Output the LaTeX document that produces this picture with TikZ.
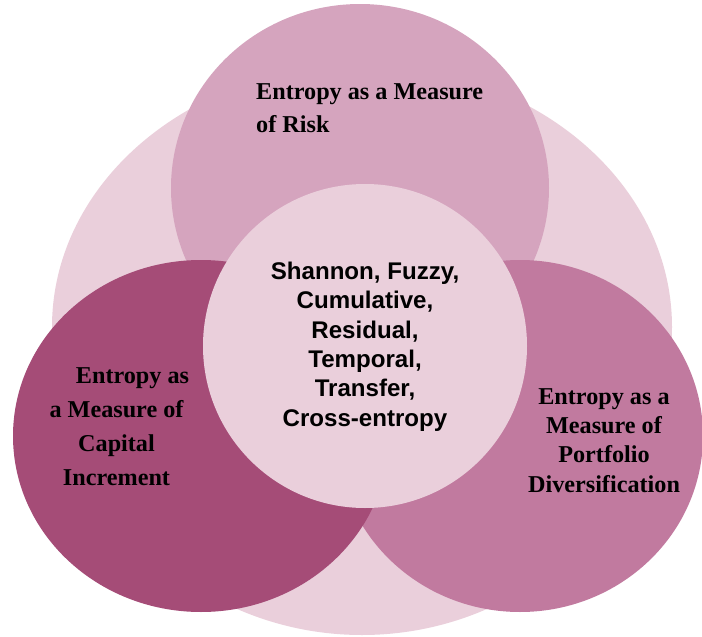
\documentclass[tikz,border=0pt]{standalone}
\usepackage{fontspec}
\setmainfont{Liberation Serif}
\newfontfamily\labelsans{Liberation Sans}
\definecolor{bgpink}{HTML}{EACFDB}
\definecolor{toppink}{HTML}{D5A4BE}
\definecolor{leftplum}{HTML}{A54C77}
\definecolor{rightmauve}{HTML}{C17A9F}
\definecolor{centerpink}{HTML}{EACFDB}
\tikzset{
  outertext/.style={inner sep=0pt, anchor=base, font=\fontsize{24.2}{30}\selectfont\bfseries, text=black},
  outerleft/.style={outertext, anchor=base west},
  innertext/.style={inner sep=0pt, anchor=base, font=\labelsans\fontsize{24.1}{30}\selectfont\bfseries, text=black}
}
\begin{document}
\begin{tikzpicture}[x=1pt,y=-1pt]
\useasboundingbox (0,0) rectangle (702,637);
% background egg-shaped circle
\fill[bgpink] (672,327) arc[start angle=0, end angle=180, x radius=310pt, y radius=262pt]
  arc[start angle=180, end angle=360, x radius=310pt, y radius=308pt] -- cycle;
% top circle
\fill[toppink] (360,188) ellipse[x radius=189pt, y radius=184pt];
% right ellipse
\fill[rightmauve] (520,436) ellipse[x radius=183pt, y radius=176pt];
% left ellipse
\fill[leftplum] (201,436) ellipse[x radius=188pt, y radius=176pt];
% centre circle
\fill[centerpink] (365,346) circle[radius=162pt];
% top text
\node[outerleft] (t1) at (256,99) {Entropy as a Measure};
\node[outerleft] (t2) at (256,132) {of Risk};
% left text
\node[outertext] (l1) at (132.5,383) {Entropy as};
\node[outertext] (l2) at (116.5,417.5) {a Measure of};
\node[outertext] (l3) at (116.5,451.5) {Capital};
\node[outertext] (l4) at (116.5,485.5) {Increment};
% right text
\node[outertext] (r1) at (604,404) {Entropy as a};
\node[outertext] (r2) at (604,433) {Measure of};
\node[outertext] (r3) at (604,462) {Portfolio};
\node[outertext] (r4) at (604,492) {Diversification};
% centre text
\node[innertext] (c1) at (365,279.5) {Shannon, Fuzzy,};
\node[innertext] (c2) at (365,308.9) {Cumulative,};
\node[innertext] (c3) at (365,338.2) {Residual,};
\node[innertext] (c4) at (365,367.5) {Temporal,};
\node[innertext] (c5) at (365,396.9) {Transfer,};
\node[innertext] (c6) at (365,426.2) {Cross-entropy};
\end{tikzpicture}
\end{document}
